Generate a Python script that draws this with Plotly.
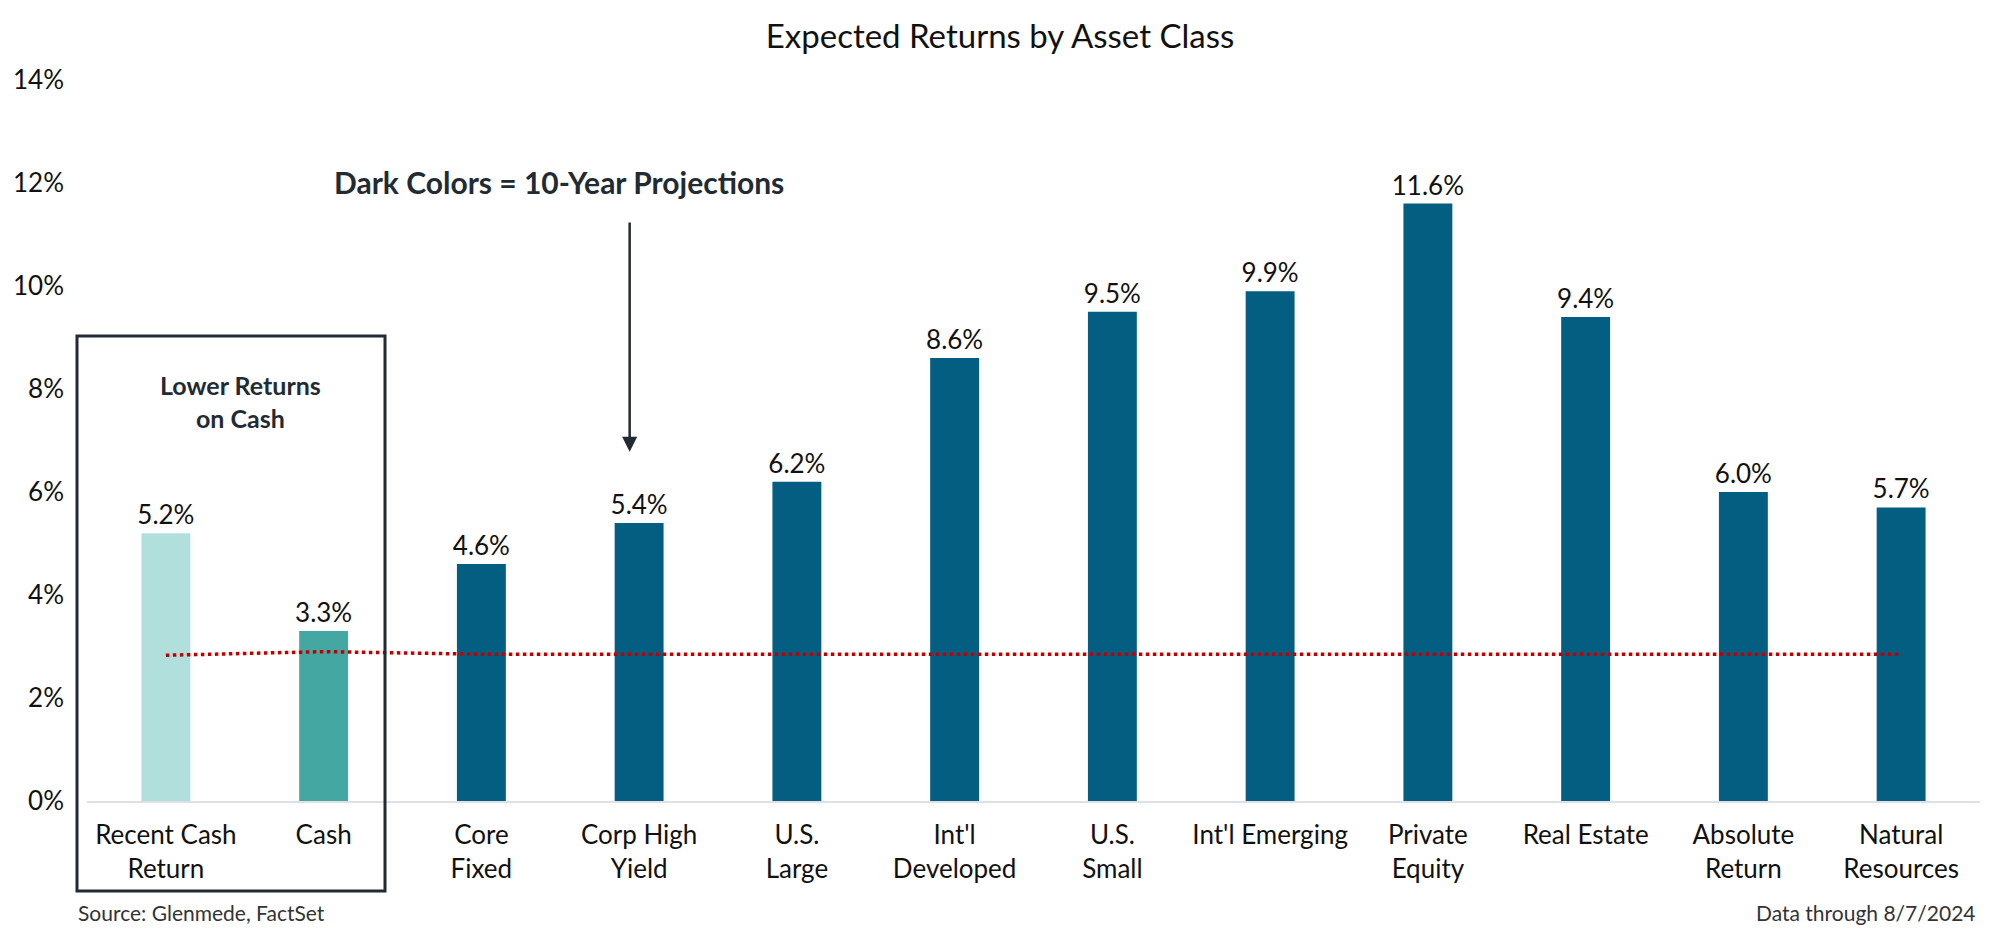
import plotly.graph_objects as go

# chart data
categories = [
    "Recent Cash<br>Return", "Cash", "Core<br>Fixed", "Corp High<br>Yield",
    "U.S.<br>Large", "Int'l<br>Developed", "U.S.<br>Small", "Int'l Emerging",
    "Private<br>Equity", "Real Estate", "Absolute<br>Return", "Natural<br>Resources",
]
expected_returns = [5.2, 3.3, 4.6, 5.4, 6.2, 8.6, 9.5, 9.9, 11.6, 9.4, 6.0, 5.7]
cash_line = [2.83, 2.90, 2.85, 2.85, 2.85, 2.85, 2.85, 2.85, 2.85, 2.85, 2.85, 2.85]
y_ticks = [0, 2, 4, 6, 8, 10, 12, 14]

LIGHT_TEAL = "#b1e0dc"
TEAL = "#45a7a2"
NAVY = "#045e82"
INK = "#222b33"
FONT = "Lato, 'Open Sans', sans-serif"

bar_colors = [LIGHT_TEAL, TEAL] + [NAVY] * (len(categories) - 2)

fig = go.Figure()
fig.add_trace(go.Bar(
    x=categories,
    y=expected_returns,
    marker=dict(color=bar_colors, line=dict(width=0)),
    texttemplate="%{y:.1f}%",
    textposition="outside",
    constraintext="none",
    textfont=dict(size=26, color="#111111", family=FONT),
    cliponaxis=False,
    width=0.31,
    showlegend=False,
))
fig.add_trace(go.Scatter(
    x=categories,
    y=cash_line,
    mode="lines",
    line=dict(color="#c00000", width=3.5, dash="dot"),
    showlegend=False,
    hoverinfo="skip",
))

# page body adds an 8px offset; target plot area is x 87..1980, y 80..801 on screen
OFF = 8
W, H = 1984, 923
L, T = 87 - OFF, 80 - OFF
R = W - (1980 - OFF)
B = H - (801 - OFF)
pw, ph = W - L - R, H - T - B


def px_x(x):
    return (x - OFF - L) / pw


def px_y(y):
    return (H - B - (y - OFF)) / ph


fig.update_layout(
    width=W,
    height=H,
    margin=dict(l=L, r=R, t=T, b=B, autoexpand=False),
    plot_bgcolor="white",
    paper_bgcolor="white",
    font=dict(family=FONT, size=26, color="#111111"),
    title=dict(
        text="Expected Returns by Asset Class",
        x=(1000 - OFF) / W, xref="container", xanchor="center",
        y=1 - (36 - OFF) / H, yref="container", yanchor="middle",
        font=dict(size=33, color="#111111", family=FONT),
    ),
    bargap=0.69,
    xaxis=dict(
        showline=True, linecolor="#dde1e6", linewidth=2,
        showgrid=False, ticks="", tickfont=dict(size=26),
        ticklabelstandoff=10, automargin=False,
    ),
    yaxis=dict(
        range=[0, 14], tickvals=y_ticks,
        ticktext=[f"{v}%" for v in y_ticks],
        showgrid=False, zeroline=False, showline=False, ticks="",
        tickfont=dict(size=26), ticklabelstandoff=22, automargin=False,
    ),
    shapes=[
        dict(
            type="rect", xref="paper", yref="paper",
            x0=px_x(77), x1=px_x(385), y0=px_y(891), y1=px_y(336),
            line=dict(color=INK, width=3), fillcolor="rgba(0,0,0,0)",
            layer="above",
        ),
    ],
    annotations=[
        dict(
            text="<b>Lower Returns<br>on Cash</b>",
            x=0.47, y=px_y(401), xref="x", yref="paper",
            xanchor="center", yanchor="middle",
            showarrow=False, font=dict(size=25, color=INK, family=FONT),
            align="center",
        ),
        dict(
            text="<b>Dark Colors = 10-Year Projections</b>",
            x=px_x(559), y=px_y(182), xref="paper", yref="paper",
            xanchor="center", yanchor="middle",
            showarrow=False, font=dict(size=30, color=INK, family=FONT),
        ),
        dict(
            text="", x=2.94, y=6.78, xref="x", yref="y",
            ax=2.94, ay=11.26, axref="x", ayref="y",
            showarrow=True, arrowhead=2, arrowsize=1.2, arrowwidth=2.5,
            arrowcolor=INK,
        ),
        dict(
            text="Source: Glenmede, FactSet",
            x=px_x(76), y=px_y(912), xref="paper", yref="paper",
            xanchor="left", yanchor="middle", showarrow=False,
            font=dict(size=21, color="#333333", family=FONT),
        ),
        dict(
            text="Data through 8/7/2024",
            x=px_x(1978), y=px_y(912), xref="paper", yref="paper",
            xanchor="right", yanchor="middle", showarrow=False,
            font=dict(size=21, color="#333333", family=FONT),
        ),
    ],
)

fig.write_html("out.html")
